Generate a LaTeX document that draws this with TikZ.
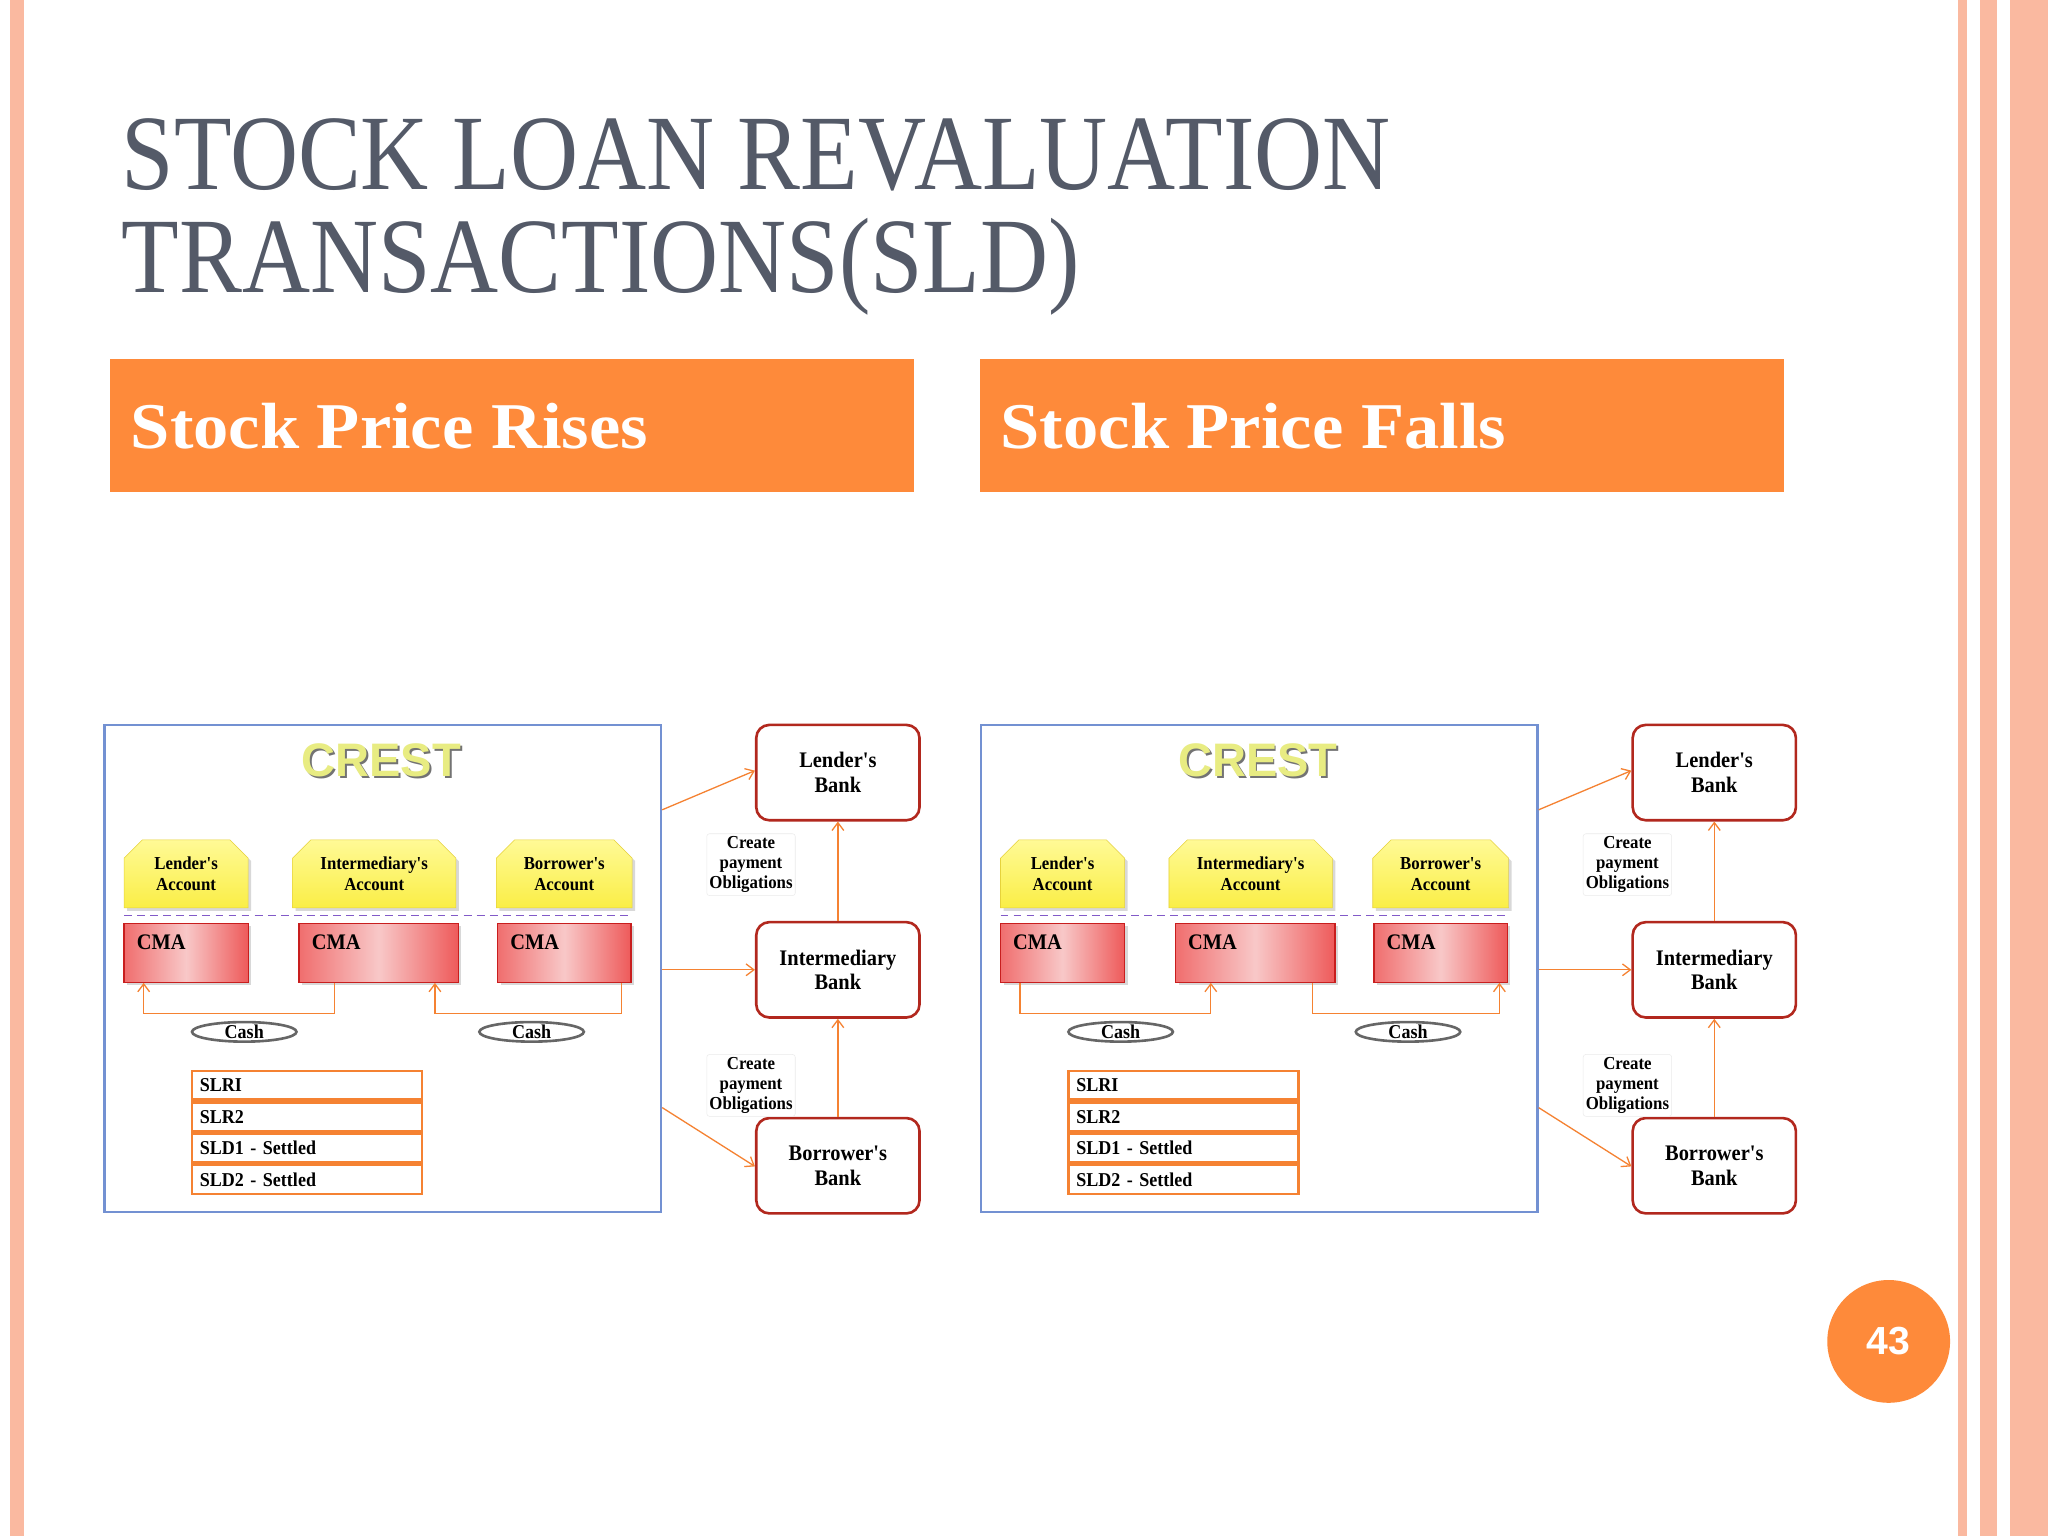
\documentclass[tikz,border=0pt]{standalone}
\usepackage{fontspec}
\usetikzlibrary{shapes.misc,shapes.geometric,arrows.meta,shadows}
\setmainfont{Liberation Serif}
\newfontfamily\titlefont[FakeStretch=0.88]{Liberation Serif}
\newfontfamily\dfont[FakeStretch=0.92]{Liberation Serif}
\newfontfamily\bfont[FakeStretch=1.08]{Liberation Serif}
\newfontfamily\sansf{Liberation Sans}
\definecolor{salmon}{RGB}{250,185,160}
\definecolor{orng}{RGB}{254,138,58}
\definecolor{titleg}{RGB}{84,90,104}
\definecolor{crestblue}{RGB}{115,145,210}
\definecolor{bankred}{RGB}{178,40,30}
\definecolor{cmared}{RGB}{200,30,30}
\definecolor{arr}{RGB}{245,130,50}
\definecolor{dashp}{RGB}{130,90,200}
\tikzset{
  acc/.style={chamfered rectangle,chamfered rectangle corners={north west,north east},chamfered rectangle xsep=7pt,chamfered rectangle ysep=7pt,draw={rgb,255:red,230;green,210;blue,60},top color={rgb,255:red,255;green,250;blue,150},bottom color={rgb,255:red,250;green,238;blue,70},drop shadow={opacity=0.3},inner sep=0pt,align=center,font=\dfont\bfseries\fontsize{14}{16}\selectfont},
  cma/.style={draw=cmared,line width=1pt,left color={rgb,255:red,240;green,110;blue,110},right color={rgb,255:red,238;green,90;blue,90},middle color={rgb,255:red,248;green,200;blue,200},drop shadow={opacity=0.3},inner sep=0pt},
  bank/.style={draw=bankred,line width=2pt,rounded corners=10pt,minimum width=125pt,minimum height=73pt,align=center,font=\dfont\bfseries\fontsize{17}{19}\selectfont,fill=white},
  link/.style={draw=arr,line width=1pt,-{Straight Barb[length=6pt,width=9pt]}},
  lbl/.style={draw=black!8,rounded corners=2pt,align=center,font=\dfont\bfseries\fontsize{14}{15.5}\selectfont,inner sep=2pt,fill=white},
  tbl/.style={draw=arr,line width=2pt,minimum width=176pt,minimum height=22pt,text width=164pt,align=left,font=\dfont\bfseries\fontsize{15}{16}\selectfont,inner sep=0pt},
  cashe/.style={ellipse,draw=black!60,line width=2pt,minimum width=80pt,minimum height=15pt,inner sep=0pt,font=\dfont\bfseries\fontsize{15}{16}\selectfont},
}
\newcommand\panel[3]{%
\begin{scope}[xshift=#1pt]
\node[draw=crestblue,line width=2pt,minimum width=426pt,minimum height=373pt,inner sep=0pt] (crest#2) at (293,741.5) {};
\node[text=black!55,font=\sansf\bfseries\fontsize{36}{36}\selectfont] at (293.5,583.5) {CREST};
\node[text={rgb,255:red,232;green,236;blue,130},font=\sansf\bfseries\fontsize{36}{36}\selectfont] (crt#2) at (292,582) {CREST};
\node[acc,minimum width=95pt,minimum height=52pt] (la#2) at (142.5,669) {Lender's\\Account};
\node[acc,minimum width=125pt,minimum height=52pt] (ia#2) at (286.5,669) {Intermediary's\\Account};
\node[acc,minimum width=104pt,minimum height=52pt] (ba#2) at (432,669) {Borrower's\\Account};
\coordinate (d1#2) at (95,701);
\coordinate (d2#2) at (484,701);
\draw[draw=dashp,line width=1pt,dash pattern=on 6pt off 4pt] (d1#2) -- (d2#2);
\node[cma,minimum width=95pt,minimum height=45pt] (lc#2) at (142.5,729.5) {};
\node[cma,minimum width=122pt,minimum height=45pt] (ic#2) at (290,729.5) {};
\node[cma,minimum width=102pt,minimum height=45pt] (bc#2) at (432,729.5) {};
\foreach \b in {lc,ic,bc}{\node[anchor=north west,font=\dfont\bfseries\fontsize{17}{19}\selectfont,inner sep=0pt] at ([xshift=10pt,yshift=-9pt]\b#2.north west) {CMA};}
#3
\node[cashe] (c1#2) at (187,790) {Cash};
\node[cashe] (c2#2) at (407,790) {Cash};
\node[tbl,anchor=north west] (t1#2) at (146,819) {SLRI};
\node[tbl,anchor=north] (t2#2) at (t1#2.south) {SLR2};
\node[tbl,anchor=north] (t3#2) at (t2#2.south) {SLD1 - Settled};
\node[tbl,anchor=north] (t4#2) at (t3#2.south) {SLD2 - Settled};
\node[bank] (lb#2) at (641.5,591.5) {Lender's\\Bank};
\node[bank] (ib#2) at (641.5,742.5) {Intermediary\\Bank};
\node[bank] (bb#2) at (641.5,892.5) {Borrower's\\Bank};
\draw[link] (crest#2.east|-0,620) -- (lb#2.west|-0,590);
\draw[link] (crest#2.east|-ib#2) -- (ib#2.west);
\draw[link] (crest#2.east|-0,848) -- (bb#2.west|-0,893);
\draw[link] (ib#2.north) -- (lb#2.south);
\draw[link] (bb#2.north) -- (ib#2.south);
\node[lbl] at (575,662) {Create\\payment\\Obligations};
\node[lbl] at (575,831) {Create\\payment\\Obligations};
\end{scope}}
\begin{document}
\begin{tikzpicture}[x=1pt,y=-1pt]
\useasboundingbox (0,0) rectangle (1568,1176);
\fill[white] (0,0) rectangle (1568,1176);
\fill[salmon] (8,0) rectangle (18,1176);
\fill[salmon] (1499,0) rectangle (1506,1176);
\fill[salmon] (1516,0) rectangle (1529,1176);
\fill[salmon] (1539,0) rectangle (1568,1176);
\node[anchor=base west,inner sep=0pt,text=titleg,font=\titlefont\fontsize{82}{82}\selectfont] (t1) at (93,145) {STOCK LOAN REVALUATION};
\node[anchor=base west,inner sep=0pt,text=titleg,font=\titlefont\fontsize{82}{82}\selectfont] (t2) at (93,224) {TRANSACTIONS(SLD)};
\node[fill=orng,minimum width=616pt,minimum height=102pt,inner sep=0pt] (b1) at (392,325.5) {};
\node[fill=orng,minimum width=616pt,minimum height=102pt,inner sep=0pt] (b2) at (1058,325.5) {};
\node[anchor=base west,inner sep=0pt,text=white,font=\bfont\bfseries\fontsize{50}{50}\selectfont] at (100,343) {Stock Price Rises};
\node[anchor=base west,inner sep=0pt,text=white,font=\bfont\bfseries\fontsize{50}{50}\selectfont] at (766,343) {Stock Price Falls};
\panel{0}{a}{%
\draw[link] (ica.south-|256,0) |- (110,776) -- (lca.south-|110,0);
\draw[link] (bca.south-|476,0) |- (333,776) -- (ica.south-|333,0);}
\panel{671}{b}{%
\draw[link] (lcb.south-|110,0) |- (256,776) -- (icb.south-|256,0);
\draw[link] (icb.south-|334,0) |- (477,776) -- (bcb.south-|477,0);}
\node[circle,fill=orng,minimum size=94pt,text=white,font=\sansf\bfseries\fontsize{30}{30}\selectfont] (pg) at (1446,1027) {43};
\end{tikzpicture}
\end{document}
